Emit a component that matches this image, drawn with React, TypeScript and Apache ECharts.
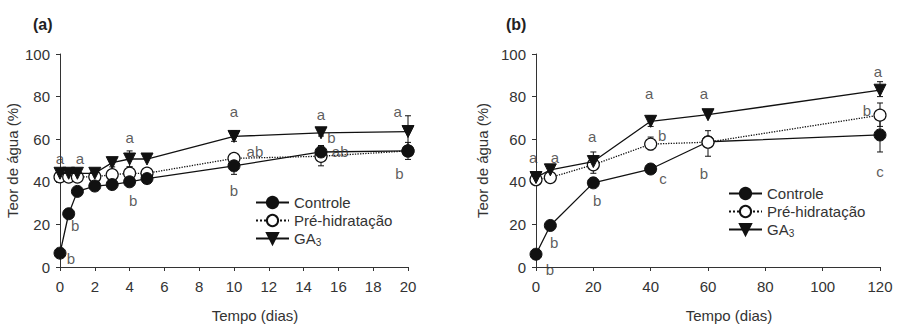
import React, { useEffect, useRef } from "react";
import * as echarts from "echarts";

// ---------- data ----------
const namesSeries = ["Controle", "Pré-hidratação", "GA3"];
const yTicks = [0, 20, 40, 60, 80, 100];

// Panel (a)
const daysA = [0, 0.5, 1, 2, 3, 4, 5, 10, 15, 20];
const controleA = [6.5, 25, 35.5, 38, 38.7, 40, 41.5, 47.5, 54, 54.5];
const preA = [42.3, 42.2, 42.2, 42.4, 43.3, 44, 44, 51, 52, 54.5];
const ga3A = [44, 44, 44, 44, 49, 50.7, 50.7, 61.3, 63, 63.6];

const errControleA = [[10, 43.5, 51.5], [15, 51, 57], [20, 50.5, 58.5]];
const errPreA = [[4, 42, 47], [10, 49, 53], [15, 47.5, 57]];
const errGa3A = [[3, 47, 51], [4, 47, 54.5], [10, 59, 64], [15, 61.5, 64.5], [20, 57, 71]];

const lettersA = [
  [0, 51, "a"], [1.15, 51, "a"], [4, 61, "a"], [10, 73, "a"], [15, 71.5, "a"], [19.4, 73, "a"],
  [15.6, 61, "b"], [11.2, 54, "ab"], [16.1, 54, "ab"], [19.5, 44, "b"], [10, 36, "b"],
  [4.2, 31, "b"], [0.87, 19.4, "b"], [0.63, 4.2, "b"],
];

// Panel (b)
const daysB = [0, 5, 20, 40, 60, 120];
const controleB = [6, 19.5, 39.5, 46, 58.8, 62];
const preB = [41, 42, 48, 57.7, 58.6, 71.3];
const ga3B = [42, 45.6, 49.5, 68.4, 71.5, 83];

const errControleB = [[20, 37.5, 42], [120, 54, 70]];
const errPreB = [[20, 44, 52], [40, 55, 61], [60, 52, 64], [120, 66, 77]];
const errGa3B = [[20, 46, 54], [40, 66, 71], [120, 80, 87]];

const lettersB = [
  [-1, 51.6, "a"], [6.6, 51.6, "a"], [19.6, 61.4, "a"], [39.5, 81.4, "a"], [58.6, 81.4, "a"],
  [119.3, 91.6, "a"], [44, 61.9, "b"], [115.4, 73.5, "b"], [21.3, 31, "b"], [44.3, 41.4, "c"],
  [58.6, 44, "b"], [120, 45, "c"], [6.3, 11.6, "b"], [4.9, -1.4, "b"],
];

const FONT = "'Liberation Sans', Arial, sans-serif";
const TXT = "#333";
const INK = "#111";
const FS = 15;

function zip(xs: number[], ys: number[]) {
  return xs.map((x, i) => [x, ys[i]]);
}

function errSeries(data: number[][], idx: number) {
  return {
    type: "custom",
    xAxisIndex: idx,
    yAxisIndex: idx,
    z: 1,
    silent: true,
    encode: { x: 0, y: [1, 2] },
    data,
    renderItem: (_p: any, api: any) => {
      const x = api.value(0);
      const lo = api.coord([x, api.value(1)]);
      const hi = api.coord([x, api.value(2)]);
      const w = 3;
      const st = { stroke: INK, lineWidth: 1 };
      return {
        type: "group",
        children: [
          { type: "line", shape: { x1: lo[0], y1: lo[1], x2: hi[0], y2: hi[1] }, style: st },
          { type: "line", shape: { x1: lo[0] - w, y1: lo[1], x2: lo[0] + w, y2: lo[1] }, style: st },
          { type: "line", shape: { x1: hi[0] - w, y1: hi[1], x2: hi[0] + w, y2: hi[1] }, style: st },
        ],
      };
    },
  };
}

function lineSeries(name: string, data: number[][], idx: number, z: number) {
  const base: any = {
    name,
    type: "line",
    xAxisIndex: idx,
    yAxisIndex: idx,
    data,
    z,
    symbolSize: 12,
    lineStyle: { color: INK, width: 1.3 },
  };
  if (name === "Controle") {
    base.symbol = "circle";
    base.itemStyle = { color: INK, borderColor: INK, borderWidth: 1 };
  } else if (name === "Pré-hidratação") {
    base.symbol = "circle";
    base.lineStyle = { color: INK, width: 1.3, type: "dotted" };
    base.itemStyle = { color: "#fff", borderColor: INK, borderWidth: 1.2 };
  } else {
    base.symbol = "triangle";
    base.symbolRotate = 180;
    base.symbolSize = 12;
    base.itemStyle = { color: INK, borderColor: INK, borderWidth: 1 };
  }
  return base;
}

function letterSeries(data: any[], idx: number) {
  return {
    type: "scatter",
    xAxisIndex: idx,
    yAxisIndex: idx,
    data,
    symbolSize: 1,
    itemStyle: { color: "rgba(0,0,0,0)" },
    clip: false,
    silent: true,
    z: 10,
    label: {
      show: true,
      position: "inside",
      formatter: (p: any) => p.value[2],
      color: TXT,
      fontSize: FS,
      fontFamily: FONT,
      textBorderWidth: 0,
      textBorderColor: "transparent",
    },
  };
}

function xAxis(idx: number, max: number, interval: number) {
  return {
    type: "value",
    gridIndex: idx,
    min: 0,
    max,
    interval,
    name: "Tempo (dias)",
    nameLocation: "middle",
    nameGap: 41,
    nameTextStyle: { color: TXT, fontSize: FS, fontFamily: FONT, padding: [0, 0, 0, 42] },
    axisLine: { onZero: false, lineStyle: { color: "#333", width: 1 } },
    axisTick: { show: true, inside: false, length: 4, lineStyle: { color: "#333" } },
    axisLabel: { color: TXT, fontSize: FS, fontFamily: FONT, margin: 12 },
    splitLine: { show: false },
  };
}

function yAxis(idx: number, gap: number) {
  return {
    type: "value",
    gridIndex: idx,
    min: yTicks[0],
    max: yTicks[yTicks.length - 1],
    interval: 20,
    name: "Teor de água (%)",
    nameLocation: "middle",
    nameGap: gap,
    nameTextStyle: { color: TXT, fontSize: FS, fontFamily: FONT },
    axisLine: { show: true, onZero: false, lineStyle: { color: "#333", width: 1 } },
    axisTick: { show: true, inside: false, length: 4, lineStyle: { color: "#333" } },
    axisLabel: { color: TXT, fontSize: FS, fontFamily: FONT, margin: 10 },
    splitLine: { show: false },
  };
}

function legend(left: number, top: number) {
  return {
    orient: "vertical",
    left,
    top,
    itemWidth: 33,
    itemHeight: 14,
    itemGap: 3,
    selectedMode: false,
    data: namesSeries,
    textStyle: {
      color: TXT,
      fontSize: FS,
      fontFamily: FONT,
      rich: {
        n: { fontSize: FS, fontFamily: FONT, color: TXT },
        s: { fontSize: 10, fontFamily: FONT, color: TXT, verticalAlign: "bottom", padding: [7, 0, 0, 0] },
      },
    },
    formatter: (name: string) => (name === "GA3" ? "{n|GA}{s|3}" : name),
  };
}

export default function App() {
  const ref = useRef<HTMLDivElement>(null);
  useEffect(() => {
    if (!ref.current) return;
    const chart = echarts.init(ref.current, undefined, { renderer: "svg" });
    chart.setOption({
      animation: false,
      backgroundColor: "#fff",
      textStyle: { fontFamily: FONT },
      title: [
        { text: "(a)", left: 28, top: 11, textStyle: { fontSize: 16, fontWeight: "bold", color: "#222", fontFamily: FONT } },
        { text: "(b)", left: 501, top: 11, textStyle: { fontSize: 16, fontWeight: "bold", color: "#222", fontFamily: FONT } },
      ],
      legend: [legend(250, 190), legend(723, 181)],
      grid: [
        { left: 60, right: 492, top: 54, bottom: 58 },
        { left: 536, right: 20, top: 54, bottom: 58 },
      ],
      xAxis: [xAxis(0, 20, 2), xAxis(1, 120, 20)],
      yAxis: [yAxis(0, 40), yAxis(1, 46)],
      series: [
        errSeries(errControleA, 0),
        errSeries(errPreA, 0),
        errSeries(errGa3A, 0),
        lineSeries("Pré-hidratação", zip(daysA, preA), 0, 2),
        lineSeries("Controle", zip(daysA, controleA), 0, 3),
        lineSeries("GA3", zip(daysA, ga3A), 0, 4),
        letterSeries(lettersA, 0),
        errSeries(errControleB, 1),
        errSeries(errPreB, 1),
        errSeries(errGa3B, 1),
        lineSeries("Controle", zip(daysB, controleB), 1, 2),
        lineSeries("Pré-hidratação", zip(daysB, preB), 1, 3),
        lineSeries("GA3", zip(daysB, ga3B), 1, 4),
        letterSeries(lettersB, 1),
      ],
    });
    return () => chart.dispose();
  }, []);
  return <div ref={ref} style={{ position: "fixed", left: 0, top: 0, width: 900, height: 328 }} />;
}
